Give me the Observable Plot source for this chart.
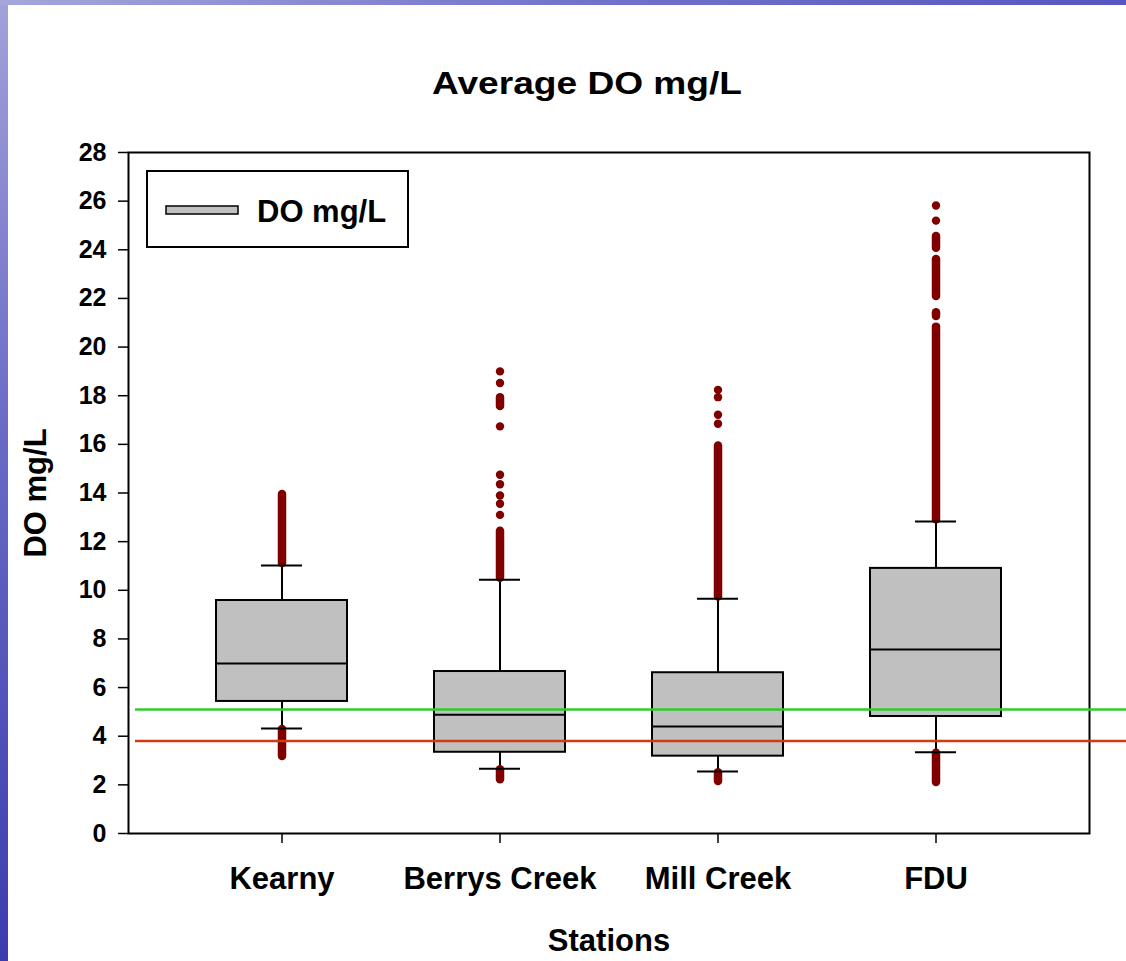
<!DOCTYPE html>
<html>
<head>
<meta charset="utf-8">
<script src="https://cdn.jsdelivr.net/npm/d3@7"></script>
<script src="https://cdn.jsdelivr.net/npm/@observablehq/plot@0.6"></script>
<style>
  html, body { margin: 0; padding: 0; }
  #page { position: relative; width: 1126px; height: 961px; overflow: hidden;
          background: linear-gradient(to bottom, #a2a2da, #6a6ac6 45%, #3c3cae); }
  #topstrip { position: absolute; left: 0; top: 0; width: 1126px; height: 5px;
              background: linear-gradient(to right, #a6a6dc, #7474cc 50%, #5656c0); }
  #sheet { position: absolute; left: 8px; top: 5px; right: 0; bottom: 0; background: #ffffff; }
  #chart, #overlay { position: absolute; left: 0; top: 0; }
  #overlay { pointer-events: none; }
</style>
</head>
<body>
<div id="page">
  <div id="topstrip"></div>
  <div id="sheet"></div>
  <div id="chart"></div>
  <svg id="overlay" width="1126" height="961"></svg>
</div>
<script>
// ---- data ----
const stations = ["Kearny", "Berrys Creek", "Mill Creek", "FDU"];
const q1 = [5.43, 3.34, 3.18, 4.81];
const medians = [6.99, 4.88, 4.40, 7.57];
const q3 = [9.58, 6.66, 6.61, 10.90];
const whiskerLow = [4.32, 2.66, 2.55, 3.34];
const whiskerHigh = [11.02, 10.43, 9.65, 12.83];

// isolated outliers
const outlierStation = ["Berrys Creek", "Berrys Creek", "Berrys Creek", "Berrys Creek", "Berrys Creek", "Berrys Creek", "Berrys Creek", "Berrys Creek",
                        "Mill Creek", "Mill Creek", "Mill Creek", "Mill Creek",
                        "FDU", "FDU"];
const outlierValue = [19.0, 18.52, 16.74, 14.75, 14.36, 13.9, 13.56, 13.1,
                      18.24, 17.94, 17.22, 16.85,
                      25.82, 25.2];

// densely packed outliers (overlapping points), given as runs low..high
const runStation = ["Kearny", "Kearny",
                    "Berrys Creek", "Berrys Creek", "Berrys Creek",
                    "Mill Creek", "Mill Creek",
                    "FDU", "FDU", "FDU", "FDU", "FDU"];
const runLow  = [11.1, 3.17, 17.56, 10.5, 2.21, 9.72, 2.14, 24.06, 22.08, 21.26, 12.9, 2.1];
const runHigh = [13.94, 4.28, 17.92, 12.43, 2.62, 15.93, 2.5, 24.55, 23.6, 21.41, 20.82, 3.3];

// reference lines
const refValues = [5.1, 3.8];
const refColors = ["#2fcc2f", "#d03c10"];

const yTicks = [0, 2, 4, 6, 8, 10, 12, 14, 16, 18, 20, 22, 24, 26, 28];

const title = "Average DO mg/L";
const yLabel = "DO mg/L";
const xLabel = "Stations";
const legendLabel = "DO mg/L";

// ---- tables ----
const boxes = stations.map((s, i) => ({station: s, q1: q1[i], median: medians[i], q3: q3[i], lo: whiskerLow[i], hi: whiskerHigh[i]}));
const outliers = outlierStation.map((s, i) => ({station: s, value: outlierValue[i]}));
const runs = runStation.map((s, i) => ({station: s, lo: runLow[i], hi: runHigh[i]}));
const refs = refValues.map((v, i) => ({value: v, color: refColors[i]}));

const font = "'Liberation Sans', Arial, Helvetica, sans-serif";
const outlierColor = "#800000";

const chart = Plot.plot({
  width: 1126,
  height: 961,
  marginLeft: 128,
  marginRight: 37,
  marginTop: 152,
  marginBottom: 128,
  style: {fontFamily: font, background: "transparent", overflow: "visible", color: "black"},
  x: {type: "band", domain: stations, padding: 0.4},
  y: {domain: [0, 28]},
  marks: [
    Plot.barY(boxes, {x: "station", y1: "q1", y2: "q3", fill: "#c0c0c0", stroke: "black", strokeWidth: 2}),
    Plot.tickY(boxes, {x: "station", y: "median", stroke: "black", strokeWidth: 2}),
    Plot.ruleX(boxes, {x: "station", y1: "q3", y2: "hi", stroke: "black", strokeWidth: 2}),
    Plot.ruleX(boxes, {x: "station", y1: "lo", y2: "q1", stroke: "black", strokeWidth: 2}),
    Plot.ruleX(runs, {x: "station", y1: "lo", y2: "hi", stroke: outlierColor, strokeWidth: 8.5, strokeLinecap: "round"}),
    Plot.dot(outliers, {x: "station", y: "value", r: 4.2, fill: outlierColor, stroke: null}),
    Plot.tickY(boxes, {x: "station", y: "hi", stroke: "black", strokeWidth: 2, insetLeft: 45, insetRight: 45}),
    Plot.tickY(boxes, {x: "station", y: "lo", stroke: "black", strokeWidth: 2, insetLeft: 45, insetRight: 45}),
    Plot.frame({stroke: "black", strokeWidth: 2}),
    Plot.axisY({ticks: yTicks, tickSize: 10, tickPadding: 12, fontSize: 25, fontWeight: "bold", strokeWidth: 1.5, label: null}),
    Plot.axisX({tickSize: 10, tickPadding: 23, fontSize: 31, fontWeight: "bold", strokeWidth: 1.5, label: null}),
    Plot.ruleY(refs, {y: "value", stroke: "color", strokeWidth: 2.5, insetLeft: 7, insetRight: -37}),
    Plot.text([yLabel], {text: d => d, frameAnchor: "left", dx: -92, rotate: -90, fontSize: 31, fontWeight: "bold", textAnchor: "middle", lineAnchor: "middle"}),
    Plot.text([xLabel], {text: d => d, frameAnchor: "bottom", dy: 117, fontSize: 31, fontWeight: "bold", textAnchor: "middle", lineAnchor: "bottom"})
  ]
});
document.getElementById("chart").appendChild(chart);

// ---- title and legend overlay ----
const ov = d3.select("#overlay").style("font-family", font);
ov.append("text")
  .attr("transform", "translate(587,94) scale(1.16,1)")
  .attr("text-anchor", "middle")
  .attr("font-size", 32)
  .attr("font-weight", "bold")
  .attr("fill", "black")
  .text(title);

const lg = ov.append("g");
lg.append("rect").attr("x", 147).attr("y", 171).attr("width", 261).attr("height", 76)
  .attr("fill", "white").attr("stroke", "black").attr("stroke-width", 2);
lg.append("rect").attr("x", 166).attr("y", 206).attr("width", 72).attr("height", 8)
  .attr("fill", "#c0c0c0").attr("stroke", "black").attr("stroke-width", 1.5);
lg.append("text").attr("x", 257).attr("y", 222)
  .attr("font-size", 31).attr("font-weight", "bold").attr("fill", "black")
  .text(legendLabel);
</script>
</body>
</html>
